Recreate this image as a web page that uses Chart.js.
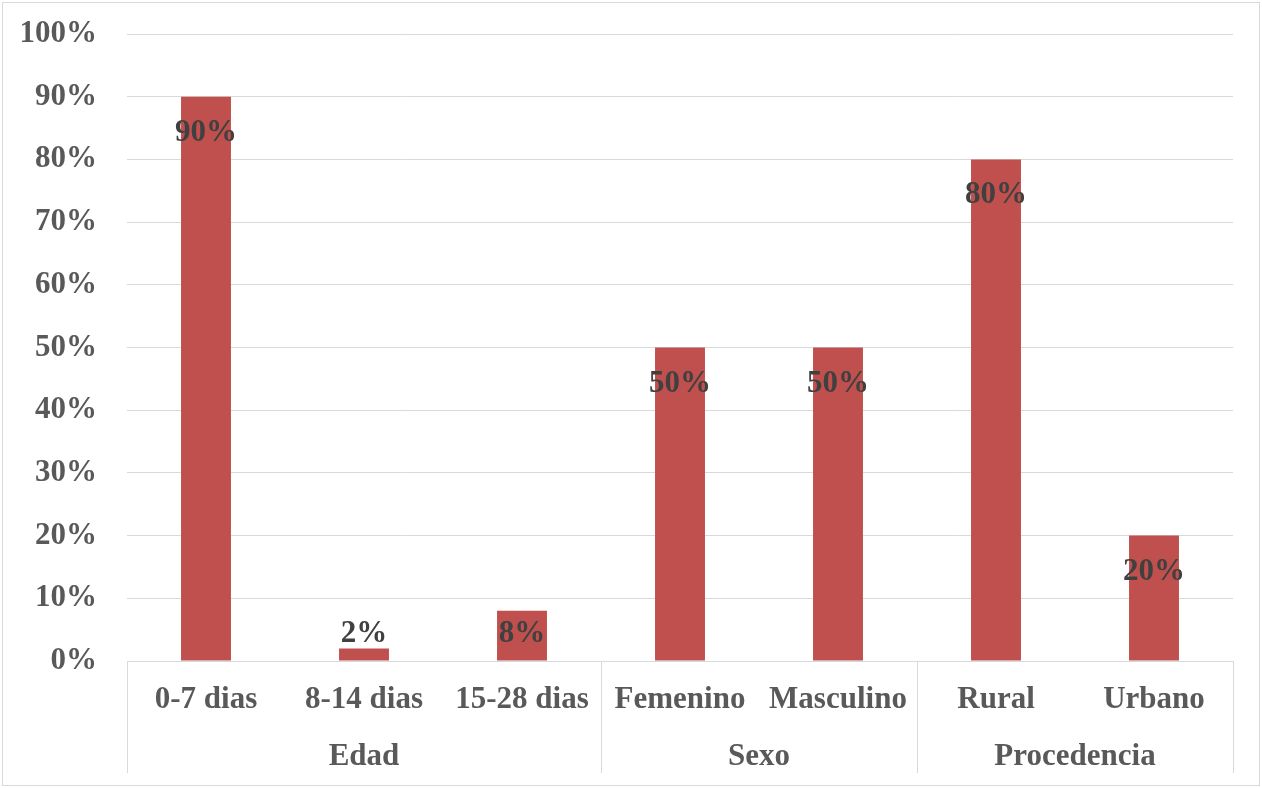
<!DOCTYPE html>
<html>
<head>
<meta charset="utf-8">
<script src="https://cdn.jsdelivr.net/npm/chart.js@4/dist/chart.umd.min.js"></script>
<style>
  html, body { margin: 0; padding: 0; background: #fff; }
  #wrap { width: 1262px; height: 788px; }
</style>
</head>
<body>
<div id="wrap"><canvas id="c" width="1262" height="788"></canvas></div>
<script>
// Categories and their percentages
const categories = ['0-7 dias', '8-14 dias', '15-28 dias', 'Femenino', 'Masculino', 'Rural', 'Urbano'];
const values = [90, 2, 8, 50, 50, 80, 20];
// Group headings below the category labels, with how many categories each covers
const groupNames = ['Edad', 'Sexo', 'Procedencia'];
const groupSizes = [3, 2, 2];
// Y-axis ticks
const yTicks = [0, 10, 20, 30, 40, 50, 60, 70, 80, 90, 100];

const FONT = '"Liberation Serif", "Times New Roman", serif';
const LINE = '#d9d9d9';

// Value labels at the inside end of each bar (kept above the axis for short bars)
const valueLabels = {
  id: 'valueLabels',
  afterDatasetsDraw(chart) {
    const ctx = chart.ctx;
    const meta = chart.getDatasetMeta(0);
    const base = chart.scales.y.getPixelForValue(0);
    ctx.save();
    ctx.font = 'bold 31px ' + FONT;
    ctx.fillStyle = '#404040';
    ctx.textAlign = 'center';
    ctx.textBaseline = 'alphabetic';
    meta.data.forEach((bar, i) => {
      const y = Math.min(bar.y + 44, base - 19);
      ctx.fillText(values[i] + '%', bar.x, y);
    });
    ctx.restore();
  }
};

// Group separators, group headings and the outer frame
const groupAxis = {
  id: 'groupAxis',
  afterDraw(chart) {
    const ctx = chart.ctx;
    const x = chart.scales.x;
    const area = chart.chartArea;
    const half = (x.getPixelForValue(1) - x.getPixelForValue(0)) / 2;
    ctx.save();
    ctx.strokeStyle = LINE;
    ctx.lineWidth = 1;
    let start = 0;
    const edges = [x.getPixelForValue(0) - half];
    groupSizes.forEach(n => {
      edges.push(x.getPixelForValue(start + n - 1) + half);
      start += n;
    });
    edges.forEach(px => {
      const xx = Math.round(px) + 0.5;
      ctx.beginPath();
      ctx.moveTo(xx, area.bottom);
      ctx.lineTo(xx, 773);
      ctx.stroke();
    });
    ctx.font = 'bold 31px ' + FONT;
    ctx.fillStyle = '#595959';
    ctx.textAlign = 'center';
    ctx.textBaseline = 'alphabetic';
    start = 0;
    groupNames.forEach((name, g) => {
      const a = x.getPixelForValue(start);
      const b = x.getPixelForValue(start + groupSizes[g] - 1);
      ctx.fillText(name, (a + b) / 2, 765);
      start += groupSizes[g];
    });
    ctx.strokeRect(2.5, 2.5, chart.width - 5, chart.height - 5);
    ctx.restore();
  }
};

new Chart(document.getElementById('c'), {
  type: 'bar',
  data: {
    labels: categories,
    datasets: [{
      data: values,
      backgroundColor: '#c0504d',
      borderWidth: 0,
      barPercentage: 0.316,
      categoryPercentage: 1
    }]
  },
  options: {
    responsive: false,
    animation: false,
    layout: { padding: { top: 34, right: 29, left: 0, bottom: 0 } },
    plugins: { legend: { display: false }, tooltip: { enabled: false } },
    scales: {
      x: {
        grid: { display: false, drawTicks: false },
        border: { display: true, color: LINE, width: 1 },
        ticks: {
          color: '#595959',
          font: { family: FONT, size: 31, weight: 'bold' },
          padding: 20,
          maxRotation: 0,
          autoSkip: false
        },
        afterFit(scale) { scale.height = 127; scale.paddingLeft = 0; scale.paddingRight = 0; }
      },
      y: {
        min: 0,
        max: 100,
        afterBuildTicks(scale) { scale.ticks = yTicks.map(v => ({ value: v })); },
        grid: { color: LINE, lineWidth: 1, drawTicks: false },
        border: { display: false },
        ticks: {
          color: '#595959',
          font: { family: FONT, size: 31, weight: 'bold' },
          padding: 30,
          callback: v => v + '%'
        },
        afterFit(scale) { scale.width = 127; scale.paddingTop = 0; scale.paddingBottom = 0; }
      }
    }
  },
  plugins: [valueLabels, groupAxis]
});
</script>
</body>
</html>
